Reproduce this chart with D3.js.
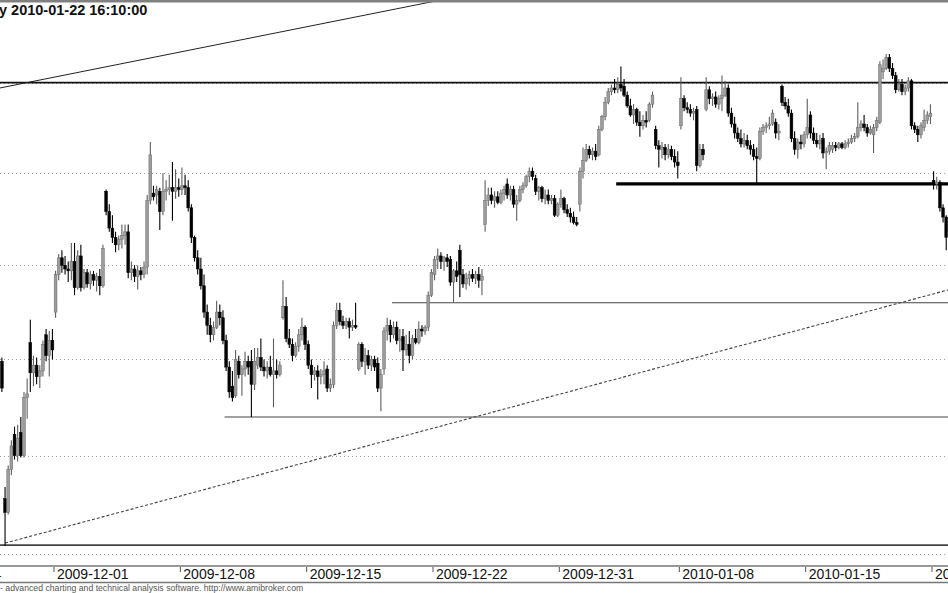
<!DOCTYPE html>
<html><head><meta charset="utf-8">
<script src="https://cdn.jsdelivr.net/npm/d3@7"></script>
<style>
body{margin:0;background:#fff;overflow:hidden}
svg{display:block;font-family:"Liberation Sans",Arial,sans-serif}
</style>
</head><body>
<svg id="chart" width="948" height="593"></svg>
<script>
// ---------- data ----------
const tradingDays = ["2009-11-24","2009-11-25","2009-11-26","2009-11-27","2009-11-30",
 "2009-12-01","2009-12-02","2009-12-03","2009-12-04","2009-12-07","2009-12-08","2009-12-09",
 "2009-12-10","2009-12-11","2009-12-14","2009-12-15","2009-12-16","2009-12-17","2009-12-18",
 "2009-12-21","2009-12-22","2009-12-23","2009-12-28","2009-12-29","2009-12-30","2009-12-31",
 "2010-01-04","2010-01-05","2010-01-06","2010-01-07","2010-01-08","2010-01-11","2010-01-12",
 "2010-01-13","2010-01-14","2010-01-15","2010-01-18","2010-01-19","2010-01-20","2010-01-21","2010-01-22"];
const barsPerDay = [8,8,8,8,8, 8,8,8,8,8,8,8, 8,8,8,8,8,8,8, 8,8,8,8,8,8,6,
 8,8,8,8,8,8,8, 8,8,8,8,8,8,8,8];
const dataStartDay = "2009-11-26";   // first bar shown: last hourly bar of that day
const dataStartBar = 7;
const tickDates = ["2009-11-24","2009-12-01","2009-12-08","2009-12-15","2009-12-22",
 "2009-12-31","2010-01-08","2010-01-15","2010-01-22"];
const gridPrices = [2250,2300,2350,2400,2450,2500];

const opens = [
 2349,
 2278,2271,2293,2311,2300,2312,2300,2330,
 2359,2343,2347,2341,2344,2363,2352,2360,
 2375,2395,2404,2400,2398,2397,2402,2388,
 2405,2388,2396,2390,2395,2392,2394,2389,
 2440,2429,2420,2415,2411,2414,2416,2418,
 2396,2398,2394,2397,2395,2399,2435,2439,
 2438,2440,2429,2440,2441,2442,2440,2442,
 2441,2443,2442,2431,2415,2404,2398,2389,
 2375,2368,2363,2367,2375,2372,2360,2346,
 2336,2331,2349,2342,2345,2349,2349,2337,
 2347,2351,2346,2344,2346,2342,2344,2342,
 2372,2378,2361,2358,2352,2357,2363,2367,
 2358,2347,2342,2344,2341,2342,2345,2335,
 2337,2368,2376,2370,2368,2370,2367,2368,
 2345,2358,2349,2352,2347,2350,2348,2335,
 2345,2365,2368,2363,2367,2360,2362,2355,
 2358,2352,2361,2359,2366,2365,2367,2384,
 2395,2403,2405,2402,2404,2403,2391,2397,
 2408,2395,2390,2393,2395,2393,2395,2392,
 2422,2435,2438,2435,2437,2434,2439,2444,
 2438,2441,2433,2435,2441,2443,2448,2451,
 2447,2440,2442,2436,2438,2435,2436,2427,
 2433,2436,2430,2428,2426,2423,
 2433,2451,2457,2463,2460,2462,2460,2474,
 2481,2489,2495,2497,2496,2499,2498,2493,
 2487,2482,2485,2478,2476,2479,2479,2488,
 2474,2465,2463,2464,2460,2463,2459,2456,
 2476,2491,2486,2485,2483,2485,2454,2463,
 2485,2496,2491,2492,2488,2491,2493,2497,
 2483,2477,2472,2469,2466,2468,2465,2463,
 2459,2458,2473,2475,2476,2477,2478,2472,
 2498,2489,2487,2483,2469,2463,2467,2466,
 2471,2482,2472,2468,2466,2469,2461,2462,
 2463,2465,2464,2466,2464,2466,2467,2469,
 2470,2475,2477,2475,2472,2471,2475,2478,
 2506,2508,2514,2508,2504,2496,2499,2495,
 2497,2501,2476,2474,2471,2475,2479,2481,
 2446,2444,2445,2431,2426,2415];
const highs = [
 2351,
 2284,2295,2308,2315,2316,2320,2333,2340,
 2371,2352,2351,2347,2360,2366,2365,2366,
 2397,2406,2408,2405,2402,2412,2412,2408,
 2411,2398,2398,2397,2397,2396,2398,2411,
 2441,2433,2427,2418,2416,2422,2422,2422,
 2402,2400,2400,2399,2402,2438,2467,2443,
 2443,2442,2450,2446,2449,2456,2452,2447,
 2453,2449,2446,2433,2416,2408,2404,2395,
 2379,2372,2370,2381,2379,2376,2363,2349,
 2344,2355,2352,2347,2354,2352,2355,2356,
 2356,2361,2350,2349,2352,2361,2350,2349,
 2392,2383,2366,2361,2359,2366,2372,2368,
 2360,2350,2346,2347,2345,2349,2347,2340,
 2370,2380,2380,2373,2372,2372,2371,2380,
 2359,2359,2356,2355,2352,2352,2351,2345,
 2367,2372,2371,2370,2370,2366,2366,2363,
 2365,2363,2366,2370,2368,2368,2386,2398,
 2405,2409,2407,2405,2406,2405,2398,2402,
 2411,2398,2396,2397,2398,2397,2399,2398,
 2446,2442,2442,2440,2440,2441,2443,2447,
 2443,2443,2438,2443,2445,2449,2453,2453,
 2449,2443,2443,2441,2441,2438,2438,2434,
 2441,2437,2433,2431,2429,2426,
 2453,2464,2466,2465,2464,2466,2476,2482,
 2492,2497,2499,2502,2503,2509,2502,2495,
 2491,2488,2486,2484,2482,2484,2489,2495,
 2476,2468,2467,2466,2466,2465,2463,2462,
 2503,2493,2489,2488,2486,2487,2466,2466,
 2503,2498,2494,2495,2493,2504,2501,2499,
 2486,2481,2475,2474,2472,2471,2468,2466,
 2464,2475,2477,2478,2481,2485,2480,2477,
 2499,2492,2491,2485,2473,2469,2471,2473,
 2491,2484,2475,2472,2471,2472,2464,2467,
 2467,2467,2467,2467,2468,2469,2471,2472,
 2489,2479,2482,2477,2476,2477,2481,2512,
 2513,2516,2516,2511,2506,2502,2502,2499,
 2503,2502,2478,2476,2478,2485,2484,2488,
 2451,2448,2446,2433,2427,2422];
const lows = [
 2333,
 2254,2270,2290,2298,2297,2299,2299,2319,
 2333,2336,2337,2335,2341,2349,2341,2350,
 2372,2392,2396,2395,2391,2392,2384,2387,
 2386,2387,2388,2387,2389,2386,2384,2388,
 2427,2418,2412,2407,2408,2409,2411,2393,
 2392,2391,2387,2392,2393,2395,2433,2435,
 2433,2419,2427,2435,2438,2424,2436,2437,
 2438,2438,2429,2412,2402,2395,2387,2372,
 2363,2359,2360,2366,2368,2358,2344,2330,
 2328,2330,2340,2331,2341,2342,2320,2334,
 2345,2344,2341,2340,2341,2325,2340,2341,
 2371,2359,2356,2349,2351,2354,2360,2355,
 2345,2335,2339,2329,2337,2337,2333,2333,
 2335,2366,2368,2366,2366,2361,2365,2366,
 2344,2346,2342,2345,2344,2344,2333,2323,
 2342,2360,2359,2361,2358,2354,2344,2352,
 2348,2350,2358,2358,2362,2363,2365,2383,
 2392,2398,2398,2397,2399,2389,2380,2391,
 2383,2388,2387,2389,2391,2390,2388,2384,
 2418,2432,2433,2431,2433,2433,2435,2436,
 2435,2431,2424,2434,2439,2442,2445,2446,
 2438,2435,2434,2433,2433,2433,2426,2426,
 2431,2428,2426,2423,2422,2421,
 2429,2447,2456,2458,2457,2457,2459,2473,
 2479,2488,2493,2494,2494,2495,2492,2486,
 2481,2477,2476,2470,2474,2475,2478,2486,
 2463,2453,2458,2457,2458,2457,2453,2447,
 2474,2484,2483,2481,2479,2451,2453,2457,
 2484,2488,2487,2486,2485,2484,2492,2481,
 2475,2469,2467,2464,2464,2463,2460,2457,
 2444,2457,2471,2472,2474,2476,2469,2468,
 2487,2485,2481,2467,2460,2458,2463,2464,
 2469,2469,2466,2464,2463,2458,2452,2460,
 2461,2462,2463,2463,2463,2464,2466,2467,
 2469,2473,2473,2470,2471,2461,2473,2477,
 2502,2507,2506,2502,2494,2495,2493,2493,
 2495,2474,2472,2467,2469,2473,2477,2477,
 2441,2441,2429,2423,2408,2411];
const closes = [
 2335,
 2271,2293,2305,2300,2309,2300,2330,2332,
 2343,2347,2341,2344,2358,2352,2360,2355,
 2395,2404,2400,2398,2397,2402,2388,2405,
 2388,2396,2390,2395,2392,2394,2389,2409,
 2429,2420,2415,2411,2414,2416,2418,2396,
 2398,2394,2397,2395,2399,2435,2460,2437,
 2441,2429,2440,2441,2442,2440,2442,2441,
 2443,2442,2431,2415,2404,2398,2389,2375,
 2368,2363,2367,2375,2372,2360,2346,2333,
 2330,2350,2342,2345,2349,2346,2337,2349,
 2351,2346,2344,2346,2342,2344,2342,2347,
 2378,2361,2358,2352,2357,2363,2367,2358,
 2347,2342,2344,2341,2342,2344,2335,2337,
 2368,2376,2370,2368,2370,2367,2368,2367,
 2358,2349,2352,2347,2350,2346,2335,2342,
 2365,2368,2363,2367,2360,2361,2355,2358,
 2352,2361,2359,2366,2365,2367,2384,2396,
 2403,2405,2402,2404,2402,2391,2397,2394,
 2395,2390,2393,2395,2393,2395,2392,2394,
 2435,2438,2435,2437,2434,2439,2441,2438,
 2441,2433,2435,2441,2443,2448,2451,2448,
 2440,2442,2436,2438,2435,2436,2427,2433,
 2436,2430,2428,2426,2423,2422,
 2451,2457,2463,2460,2462,2459,2474,2481,
 2489,2495,2497,2496,2499,2497,2493,2487,
 2482,2485,2478,2476,2479,2478,2488,2493,
 2465,2463,2464,2460,2463,2459,2456,2454,
 2491,2486,2485,2483,2484,2454,2463,2460,
 2496,2491,2492,2488,2491,2493,2497,2483,
 2477,2472,2469,2466,2468,2465,2463,2459,
 2458,2473,2475,2476,2477,2483,2472,2473,
 2489,2487,2483,2469,2463,2467,2466,2471,
 2475,2472,2468,2466,2468,2461,2462,2465,
 2465,2464,2466,2464,2466,2467,2469,2470,
 2475,2477,2475,2472,2474,2475,2479,2510,
 2508,2514,2508,2504,2496,2499,2495,2497,
 2501,2476,2474,2471,2476,2479,2482,2483,
 2444,2445,2431,2426,2415,2418];

// drawn studies: horizontal levels and trend lines (price levels, start slot)
const levelPrices    = [2500, 2444, 2380, 2320, 2254.5];
const levelFromSlot  = [0, 218, 147, 94, 0];
const trendFromSlot  = [22.9, 24.5];
const trendFromPrice = [2497, 2255.5];
const trendToSlot    = [162.2, 323.1];
const trendToPrice   = [2546.5, 2386.8];

const titleText  = "y 2010-01-22 16:10:00";
const footerText = "- advanced charting and technical analysis software. http://www.amibroker.com";

// ---------- layout ----------
const W = 948, H = 593;
const plotTop = 2, plotBottom = 566;

const dayStart = [];
{ let s = 0; barsPerDay.forEach(n => { dayStart.push(s); s += n; }); }
const dayIdx = d => tradingDays.indexOf(d);
const firstSlot = dayStart[dayIdx(dataStartDay)] + dataStartBar;

const x = d3.scaleLinear()
  .domain([dayStart[dayIdx("2009-12-01")], dayStart[dayIdx("2010-01-22")]])
  .range([54, 932]);
const y = d3.scaleLog().domain([2250, 2450]).range([554, 173]);

const n = Math.min(opens.length, highs.length, lows.length, closes.length);
const bars = d3.range(n).map(i => ({
  slot: firstSlot + i, o: opens[i], h: highs[i], l: lows[i], c: closes[i]
}));

const svg = d3.select("#chart");
svg.append("rect").attr("width", W).attr("height", H).attr("fill", "#fff");

svg.append("defs").append("clipPath").attr("id", "plotclip")
  .append("rect").attr("x", 0).attr("y", plotTop).attr("width", W).attr("height", plotBottom - plotTop);

const plot = svg.append("g").attr("clip-path", "url(#plotclip)");

// dotted grid
plot.selectAll("line.grid").data(gridPrices).join("line")
  .attr("class", "grid")
  .attr("x1", 0).attr("x2", W)
  .attr("y1", d => Math.round(y(d)) + 0.5).attr("y2", d => Math.round(y(d)) + 0.5)
  .attr("stroke", "#a0a0a0").attr("stroke-width", 1).attr("stroke-dasharray", "1,3");

// horizontal levels
const levelStyle = [
  {w: 1.6, c: "#111"}, {w: 3.2, c: "#000"}, {w: 1.1, c: "#444"}, {w: 1.1, c: "#444"}, {w: 1.8, c: "#444"}
];
levelPrices.forEach((p, i) => {
  plot.append("line")
    .attr("x1", levelFromSlot[i] === 0 ? 0 : x(levelFromSlot[i])).attr("x2", W)
    .attr("y1", y(p)).attr("y2", y(p))
    .attr("stroke", levelStyle[i].c).attr("stroke-width", levelStyle[i].w);
});

// trend lines
const trendStyle = [{w: 1, c: "#222", dash: null}, {w: 1.1, c: "#444", dash: "3,2"}];
trendFromSlot.forEach((s, i) => {
  const ln = plot.append("line")
    .attr("x1", x(s)).attr("y1", y(trendFromPrice[i]))
    .attr("x2", x(trendToSlot[i])).attr("y2", y(trendToPrice[i]))
    .attr("stroke", trendStyle[i].c).attr("stroke-width", trendStyle[i].w);
  if (trendStyle[i].dash) ln.attr("stroke-dasharray", trendStyle[i].dash);
});

// candles
const bodyW = 2.8;
const cg = plot.append("g");
cg.selectAll("line.wick").data(bars).join("line")
  .attr("class", "wick")
  .attr("x1", d => x(d.slot + 0.5)).attr("x2", d => x(d.slot + 0.5))
  .attr("y1", d => y(d.h)).attr("y2", d => y(d.l))
  .attr("stroke", d => d.c >= d.o ? "#5e5e5e" : "#000").attr("stroke-width", 1.1);
cg.selectAll("rect.body").data(bars).join("rect")
  .attr("class", "body")
  .attr("x", d => x(d.slot + 0.5) - bodyW / 2).attr("width", bodyW)
  .attr("y", d => y(Math.max(d.o, d.c)))
  .attr("height", d => Math.max(1.2, Math.abs(y(d.o) - y(d.c))))
  .attr("fill", d => d.c >= d.o ? "#9c9c9c" : "#000")
  .attr("stroke", d => d.c >= d.o ? "#6a6a6a" : "#000").attr("stroke-width", 0.5);

// frame
svg.append("rect").attr("x", 0).attr("y", 0).attr("width", W).attr("height", 2.5).attr("fill", "#808080");
svg.append("line").attr("x1", 0).attr("x2", W).attr("y1", 566).attr("y2", 566)
  .attr("stroke", "#777").attr("stroke-width", 1.5);
svg.append("line").attr("x1", 0).attr("x2", W).attr("y1", 582.5).attr("y2", 582.5)
  .attr("stroke", "#777").attr("stroke-width", 1.5);

// x axis labels
const ax = svg.append("g");
tickDates.forEach(d => {
  const tx = x(dayStart[dayIdx(d)]);
  ax.append("line").attr("x1", tx).attr("x2", tx).attr("y1", 567).attr("y2", 572)
    .attr("stroke", "#555").attr("stroke-width", 1);
  ax.append("text").attr("x", tx + 3).attr("y", 579)
    .attr("font-size", "14px").attr("fill", "#111").text(d);
});

// title + footer
svg.append("text").attr("x", -1).attr("y", 15).attr("font-size", "14.5px")
  .attr("font-weight", "bold").attr("fill", "#111").text(titleText);
svg.append("text").attr("x", 0).attr("y", 591).attr("font-size", "8.7px")
  .attr("fill", "#555").text(footerText);
</script>
</body></html>
